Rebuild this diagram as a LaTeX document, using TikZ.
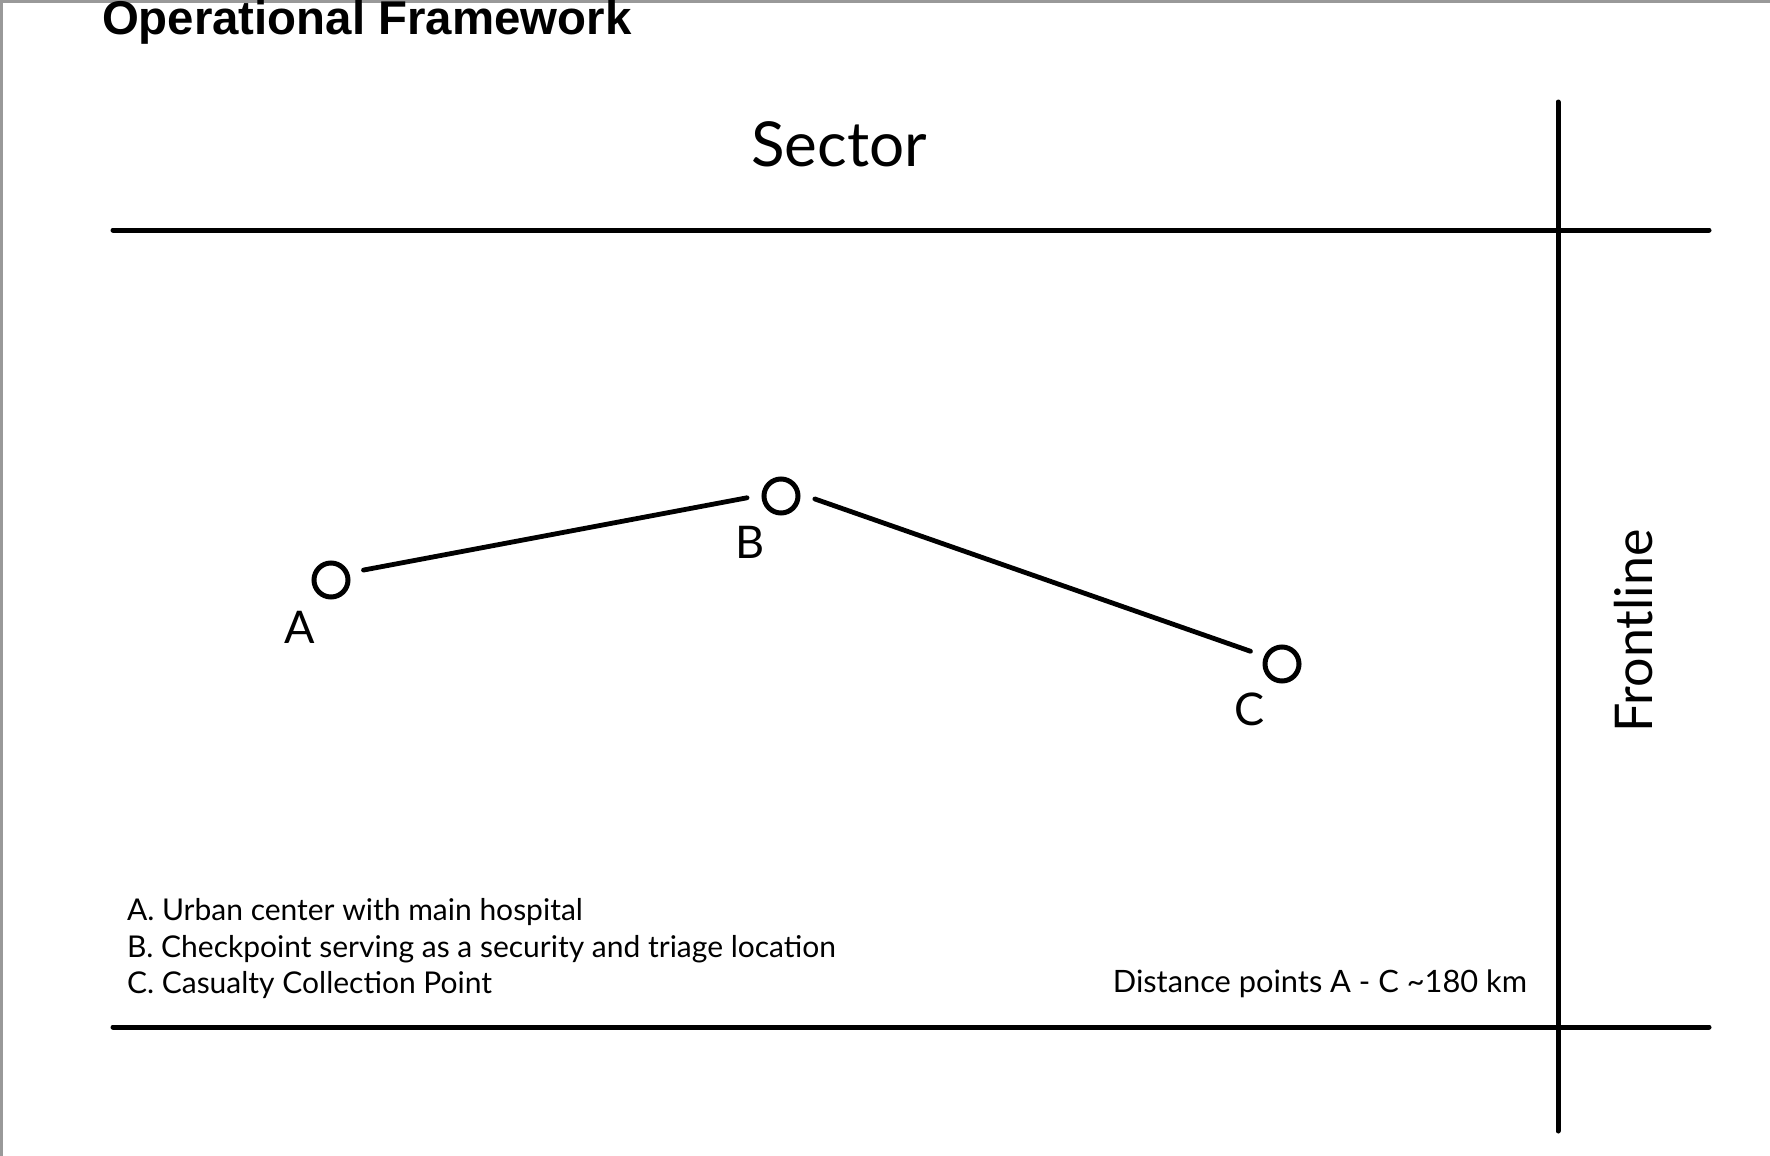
\documentclass[tikz,border=0pt]{standalone}
\usepackage{fontspec}
\setmainfont{Lato}
\newfontfamily\titlefont{Liberation Sans}

\begin{document}
\begin{tikzpicture}[x=1pt,y=-1pt,
  every node/.style={inner sep=0pt, outer sep=0pt},
  rule/.style={line width=5pt, line cap=round},
  site/.style={circle, draw, line width=5pt, minimum size=34pt, outer sep=17pt},
  link/.style={line width=4.8pt, line cap=round},
  tag/.style={font=\fontsize{45}{45}\selectfont, anchor=base},
  legend/.style={font=\fontsize{30}{34}\selectfont, anchor=base west}]
  \useasboundingbox (0,0) rectangle (1770,1156);
  \draw[black!40, line width=3pt] (1.5,1156) -- (1.5,1.5) -- (1770,1.5);
  \node[anchor=base west, font=\titlefont\bfseries\fontsize{47.4}{50}\selectfont]
    (title) at (102,35) {Operational Framework};
  \draw[rule] (113,230) -- (1709,230);
  \draw[rule] (113,1027) -- (1709,1027);
  \draw[rule] (1558,102) -- (1558,1131);
  \node[anchor=base, font=\fontsize{62}{64}\selectfont] (sector) at (839,166) {Sector};
  \node[anchor=base, rotate=90, font=\fontsize{52}{54}\selectfont] (front) at (1652,631) {Frontline};
  \node[site] (A) at (331,580) {};
  \node[site] (B) at (781,496) {};
  \node[site] (C) at (1282,664) {};
  \node[tag] (tA) at (300,643) {A};
  \node[tag] (tB) at (750,558) {B};
  \node[tag] (tC) at (1250,725) {C};
  \draw[link] (A.17) -- (B.183);
  \draw[link] (B.-5) -- (C.158);
  \foreach \t [count=\i] in {A. Urban center with main hospital,
    B. Checkpoint serving as a security and triage location,
    C. Casualty Collection Point}
  \node[legend] (leg\i) at (127,884+36.5*\i) {\t};
  \node[anchor=base east, font=\fontsize{30.8}{34}\selectfont] (dist) at (1527,992)
    {Distance points A - C \textasciitilde180 km};
\end{tikzpicture}
\end{document}
